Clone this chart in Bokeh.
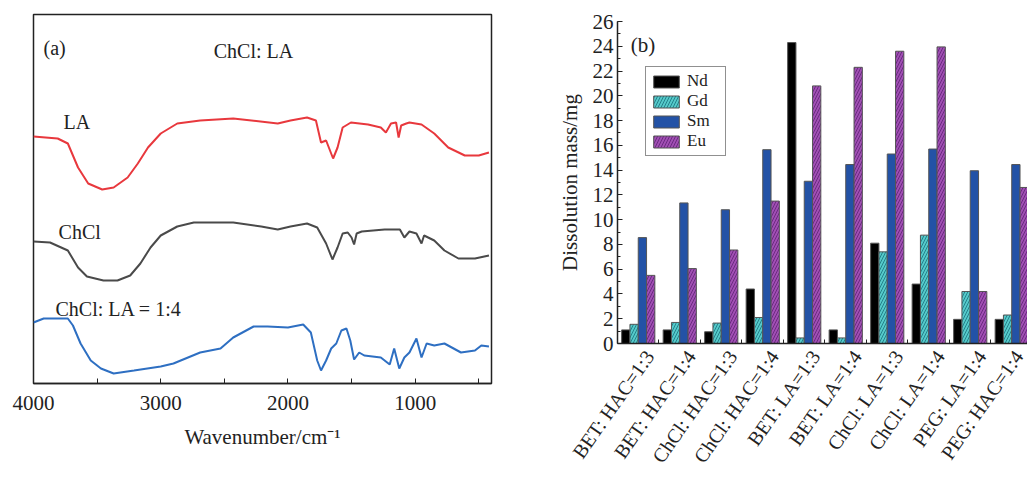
import numpy as np
from bokeh.plotting import figure
from bokeh.models import Range1d, FixedTicker, Label, Legend, LegendItem
from bokeh.layouts import row, column
from bokeh.embed import file_html
from bokeh.resources import INLINE

FONT = "Liberation Serif"

# ---------------- Panel (a): FTIR spectra (arbitrary offset transmittance) ----------------
la_wn = [4000, 3810, 3730, 3650, 3570, 3460, 3370, 3260, 3180, 3100, 3000, 2870, 2690, 2430,
         2080, 1980, 1850, 1780, 1740, 1700, 1645, 1610, 1570, 1505, 1370, 1270, 1230, 1190,
         1150, 1130, 1110, 1070, 1045, 950, 850, 740, 610, 500, 420]
la_t = [247, 245, 240, 216, 200, 194, 196, 206, 220, 236, 250, 260, 263, 265,
        260, 263, 266, 263, 241, 243, 225, 236, 256, 261, 259, 256, 251, 260,
        261, 246, 258, 260, 261, 259, 250, 236, 228, 228, 231]

chcl_wn = [4000, 3870, 3730, 3650, 3580, 3450, 3340, 3240, 3160, 3080, 3000, 2870, 2740, 2430,
           2210, 2080, 1980, 1850, 1770, 1700, 1650, 1610, 1570, 1530, 1500, 1480, 1460, 1420,
           1240, 1120, 1085, 1045, 990, 950, 930, 850, 770, 660, 530, 420]
chcl_t = [142, 141, 133, 116, 107, 103, 103, 108, 120, 136, 148, 157, 161, 161,
          157, 154, 157, 160, 156, 140, 124, 136, 150, 151, 146, 139, 150, 152,
          154, 154, 146, 152, 150, 140, 148, 143, 133, 125, 125, 128]

mix_wn = [4000, 3920, 3730, 3690, 3630, 3550, 3470, 3370, 3210, 3000, 2900, 2690, 2530, 2430,
          2270, 2160, 2000, 1880, 1820, 1770, 1740, 1700, 1660, 1620, 1580, 1540, 1510, 1480,
          1440, 1400, 1270, 1200, 1165, 1125, 1085, 1045, 990, 950, 910, 850, 770, 640, 530,
          480, 420]
mix_t = [61, 65, 65, 58, 40, 23, 15, 10, 13, 17, 20, 31, 35, 46,
         57, 57, 56, 59, 51, 23, 13, 23, 35, 40, 53, 55, 43, 24,
         31, 28, 26, 19, 35, 15, 26, 31, 45, 26, 40, 38, 40, 31, 33,
         38, 37]

wn_major = [4000, 3000, 2000, 1000]
wn_minor = [3500, 2500, 1500, 500]

p1 = figure(width=538, height=479, output_backend="svg", toolbar_location=None,
            x_range=Range1d(4000, 400), y_range=Range1d(0, 369),
            min_border_left=33, min_border_right=47, min_border_top=14, min_border_bottom=96)
p1.xgrid.visible = False
p1.ygrid.visible = False
p1.yaxis.visible = False
p1.outline_line_color = "#222222"
p1.outline_line_width = 1.5
p1.background_fill_color = "white"
p1.border_fill_color = "white"

p1.line(la_wn, la_t, line_color="#e8383d", line_width=2)
p1.line(chcl_wn, chcl_t, line_color="#4a4a4a", line_width=2)
p1.line(mix_wn, mix_t, line_color="#2e6fc2", line_width=2)

ax = p1.xaxis[0]
ax.ticker = FixedTicker(ticks=wn_major, minor_ticks=wn_minor)
ax.major_tick_in = 5
ax.major_tick_out = 0
ax.minor_tick_in = 5
ax.minor_tick_out = 0
ax.axis_line_color = "#222222"
ax.axis_line_width = 1.5
ax.major_tick_line_color = "#222222"
ax.minor_tick_line_color = "#222222"
ax.major_label_text_font = FONT
ax.major_label_text_font_size = "21px"
ax.major_label_text_color = "#222222"
ax.major_label_standoff = 12
ax.axis_label = "Wavenumber/cm⁻¹"
ax.axis_label_text_font = FONT
ax.axis_label_text_font_size = "21px"
ax.axis_label_text_font_style = "normal"
ax.axis_label_text_color = "#222222"
ax.axis_label_standoff = 12

for txt, xx, yy in [("(a)", 3921, 336), ("ChCl: LA", 2583, 333), ("LA", 3764, 262),
                    ("ChCl", 3803, 152), ("ChCl: LA = 1:4", 3827, 75)]:
    p1.add_layout(Label(x=xx, y=yy, text=txt, text_font=FONT, text_font_size="20px",
                        text_baseline="middle", text_align="left", text_color="#222222"))

# ---------------- Panel (b): dissolution mass bars ----------------
systems = ["BET: HAC=1:3", "BET: HAC=1:4", "ChCl: HAC=1:3", "ChCl: HAC=1:4", "BET: LA=1:3",
           "BET: LA=1:4", "ChCl: LA=1:3", "ChCl: LA=1:4", "PEG: LA=1:4", "PEG: HAC=1:4"]
nd = [1.1, 1.1, 0.95, 4.4, 24.3, 1.1, 8.1, 4.8, 1.95, 1.95]
gd = [1.55, 1.7, 1.65, 2.1, 0.45, 0.45, 7.4, 8.75, 4.2, 2.3]
sm = [8.55, 11.35, 10.8, 15.65, 13.1, 14.45, 15.3, 15.7, 13.95, 14.45]
eu = [5.5, 6.05, 7.55, 11.5, 20.8, 22.3, 23.6, 23.95, 4.2, 12.6]
y_ticks = list(range(0, 27, 2))

p2 = figure(width=489, height=479, output_backend="svg", toolbar_location=None,
            x_range=Range1d(0, 9.88), y_range=Range1d(0, 26),
            min_border_left=79, min_border_right=0, min_border_top=21, min_border_bottom=136)
p2.xgrid.visible = False
p2.ygrid.visible = False
p2.outline_line_color = None
p2.background_fill_color = "white"
p2.border_fill_color = "white"

centers = np.arange(len(systems)) + 0.5
styles = [("Nd", nd, -0.3, "black", None, None),
          ("Gd", gd, -0.1, "#55caca", "/", "#23808a"),
          ("Sm", sm, 0.1, "#2352a6", None, None),
          ("Eu", eu, 0.3, "#a14fb4", "/", "#6a2a80")]
items = []
for name, vals, off, fc, hp, hc in styles:
    kw = dict(x=centers + off, top=vals, width=0.2, fill_color=fc,
              line_color="#555555", line_width=1)
    if hp is not None:
        kw.update(hatch_pattern=hp, hatch_color=hc, hatch_scale=6, hatch_weight=1)
    r = p2.vbar(**kw)
    items.append(LegendItem(label=name, renderers=[r]))

legend = Legend(items=items, location=(28, 187), label_text_font=FONT,
                label_text_font_size="17px", label_text_color="#222222",
                glyph_width=32, glyph_height=15, spacing=0, padding=4, margin=0,
                label_standoff=5, label_height=15, label_width=34,
                border_line_color="#222222", border_line_width=1.5,
                background_fill_color="white", background_fill_alpha=1)
p2.add_layout(legend)

# rotated labels are anchored at their upper-right end, just right of each group
label_pos = centers + 0.27
xa = p2.xaxis[0]
xa.ticker = FixedTicker(ticks=list(label_pos), minor_ticks=list(range(1, len(systems))))
xa.major_label_overrides = {float(c): s for c, s in zip(label_pos, systems)}
xa.major_label_orientation = 0.96
xa.major_tick_in = 0
xa.major_tick_out = 0
xa.minor_tick_in = 4
xa.minor_tick_out = 0
xa.axis_line_color = "#222222"
xa.axis_line_width = 1.5
xa.minor_tick_line_color = "#222222"
xa.major_label_text_font = FONT
xa.major_label_text_font_size = "20px"
xa.major_label_text_color = "#222222"
xa.major_label_standoff = 9

ya = p2.yaxis[0]
ya.ticker = FixedTicker(ticks=y_ticks, minor_ticks=list(range(0, 27)))
ya.major_tick_in = 5
ya.major_tick_out = 0
ya.minor_tick_in = 3
ya.minor_tick_out = 0
ya.axis_line_color = "#222222"
ya.axis_line_width = 1.5
ya.major_tick_line_color = "#222222"
ya.minor_tick_line_color = "#222222"
ya.major_label_text_font = FONT
ya.major_label_text_font_size = "21px"
ya.major_label_text_color = "#222222"
ya.major_label_standoff = 4
ya.axis_label = "Dissolution mass/mg"
ya.axis_label_text_font = FONT
ya.axis_label_text_font_size = "21px"
ya.axis_label_text_font_style = "normal"
ya.axis_label_text_color = "#222222"
ya.axis_label_standoff = 8

p2.add_layout(Label(x=0.32, y=24.1, text="(b)", text_font=FONT, text_font_size="21px",
                    text_baseline="middle", text_align="left", text_color="#222222"))

layout = row(column(p1), column(p2), spacing=0)
open("out.html", "w").write(file_html(layout, INLINE))
